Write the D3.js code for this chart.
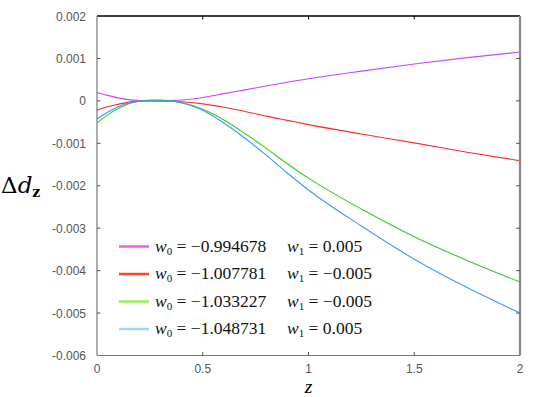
<!DOCTYPE html>
<html>
<head>
<meta charset="utf-8">
<script src="https://cdn.jsdelivr.net/npm/d3@7"></script>
<style>
  body { margin: 0; background: #fff; }
  svg { display: block; }
</style>
</head>
<body>
<svg width="545" height="397"></svg>
<script>
// z grid shared by every curve
const zValues = [0, 0.05, 0.1, 0.15, 0.2, 0.25, 0.3, 0.35, 0.4, 0.5, 0.6, 0.7, 0.8, 0.9, 1.0, 1.25, 1.5, 1.75, 2.0];

// Delta d_z per series
const magentaVals = [0.0002, 0.00013, 0.00007, 0.00003, 0.00001, 0.0, 0.0, 0.00001, 0.00002, 0.00008, 0.00017, 0.00026, 0.00035, 0.00044, 0.00052, 0.0007, 0.00087, 0.00102, 0.00115];
const redVals = [-0.00022, -0.00014, -0.00008, -0.00003, -0.00001, 0.0, 0.0, -0.00001, -0.00002, -0.00007, -0.00015, -0.00025, -0.00036, -0.00046, -0.00056, -0.00078, -0.00099, -0.00121, -0.00141];
const greenVals = [-0.00052, -0.00033, -0.00018, -0.00007, -0.00001, 0.00001, 0.00001, 0.0, -0.00004, -0.0002, -0.00045, -0.00077, -0.00112, -0.00148, -0.00182, -0.00255, -0.0032, -0.00376, -0.00427];
const blueVals = [-0.00043, -0.00027, -0.00014, -0.00005, -0.00001, 0.00002, 0.00002, 0.0, -0.00005, -0.00022, -0.00052, -0.00088, -0.00128, -0.0017, -0.0021, -0.00295, -0.00373, -0.0044, -0.005];

const w0Labels = ["\u22120.994678", "\u22121.007781", "\u22121.033227", "\u22121.048731"];
const w1Labels = ["0.005", "\u22120.005", "\u22120.005", "0.005"];

const xTicks = [0, 0.5, 1, 1.5, 2];
const yTicks = [0.002, 0.001, 0, -0.001, -0.002, -0.003, -0.004, -0.005, -0.006];

const lineColors = ["#cc44ff", "#ff2a2a", "#33cc22", "#3a98ff"];
const legendColors = ["#ff55ee", "#ff4422", "#99ee55", "#99d8ff"];

const series = [magentaVals, redVals, greenVals, blueVals].map((vals, i) => ({
  pts: zValues.map((z, j) => [z, vals[j]]),
  color: lineColors[i],
  legendColor: legendColors[i],
  w0: w0Labels[i],
  w1: w1Labels[i]
}));

const svg = d3.select("svg");
const pLeft = 97, pRight = 520, pTop = 16, pBottom = 355.5;

const x = d3.scaleLinear().domain([0, 2]).range([pLeft, pRight]);
const y = d3.scaleLinear().domain([-0.006, 0.002]).range([pBottom, pTop]);

const fmt = d => d === 0 ? "0" : String(+d.toFixed(3));

// curves
const line = d3.line().x(d => x(d[0])).y(d => y(d[1])).curve(d3.curveMonotoneX);
svg.append("g").selectAll("path")
  .data(series)
  .join("path")
  .attr("d", d => line(d.pts))
  .attr("fill", "none")
  .attr("stroke", d => d.color)
  .attr("stroke-width", 1.1);

// frame
svg.append("line").attr("x1", pLeft).attr("x2", pRight).attr("y1", pTop).attr("y2", pTop)
  .attr("stroke", "#000").attr("stroke-width", 1.5);
svg.append("line").attr("x1", pLeft).attr("x2", pRight).attr("y1", pBottom).attr("y2", pBottom)
  .attr("stroke", "#777").attr("stroke-width", 1.2);
svg.append("line").attr("x1", pLeft).attr("x2", pLeft).attr("y1", pTop).attr("y2", pBottom)
  .attr("stroke", "#777").attr("stroke-width", 1.2);
svg.append("line").attr("x1", pRight).attr("x2", pRight).attr("y1", pTop).attr("y2", pBottom)
  .attr("stroke", "#888").attr("stroke-width", 2.2);

// ticks
const tk = svg.append("g");
tk.selectAll(".yl").data(yTicks.slice(1, -1)).join("line")
  .attr("x1", pLeft).attr("x2", pLeft + 3.5).attr("y1", d => y(d)).attr("y2", d => y(d))
  .attr("stroke", "#555");
tk.selectAll(".yr").data(yTicks.slice(1, -1)).join("line")
  .attr("x1", pRight - 4).attr("x2", pRight).attr("y1", d => y(d)).attr("y2", d => y(d))
  .attr("stroke", "#555");
tk.selectAll(".xb").data(xTicks.slice(1, -1)).join("line")
  .attr("x1", d => x(d)).attr("x2", d => x(d)).attr("y1", pBottom).attr("y2", pBottom - 3.5)
  .attr("stroke", "#555");
tk.selectAll(".xt").data(xTicks.slice(1, -1)).join("line")
  .attr("x1", d => x(d)).attr("x2", d => x(d)).attr("y1", pTop).attr("y2", pTop + 3.5)
  .attr("stroke", "#000");

// tick labels
svg.append("g").selectAll("text").data(yTicks).join("text")
  .attr("x", 86).attr("y", d => y(d) + 4.5)
  .attr("text-anchor", "end")
  .attr("font-family", "Liberation Sans, Arial, sans-serif")
  .attr("font-size", 12).attr("fill", "#555")
  .text(fmt);
svg.append("g").selectAll("text").data(xTicks).join("text")
  .attr("x", d => x(d)).attr("y", 372.5)
  .attr("text-anchor", "middle")
  .attr("font-family", "Liberation Sans, Arial, sans-serif")
  .attr("font-size", 12).attr("fill", "#555")
  .text(d => String(d));

// axis titles
const yt = svg.append("text").attr("x", 1).attr("y", 193)
  .attr("font-family", "DejaVu Serif, serif").attr("font-size", 23).attr("fill", "#000");
yt.append("tspan").text("\u0394");
yt.append("tspan").attr("font-style", "italic").text("d");
yt.append("tspan").attr("font-size", 14).attr("font-weight", "bold").attr("dy", 4).text("z");

svg.append("text").attr("x", x(1)).attr("y", 392.6)
  .attr("text-anchor", "middle")
  .attr("font-family", "Liberation Serif, serif").attr("font-style", "italic")
  .attr("font-size", 19.5).text("z");

// legend
const legY = [246.5, 274, 301.5, 329];
const lg = svg.append("g").selectAll("g").data(series).join("g")
  .attr("transform", (d, i) => `translate(0,${legY[i]})`);
lg.append("line").attr("x1", 119).attr("x2", 149).attr("y1", 0).attr("y2", 0)
  .attr("stroke", d => d.legendColor).attr("stroke-width", 2.5);
const t0 = lg.append("text").attr("x", 155).attr("y", 5)
  .attr("font-family", "Liberation Serif, serif").attr("font-size", 17.5).attr("fill", "#111");
t0.append("tspan").attr("font-style", "italic").text("w");
t0.append("tspan").attr("font-size", 11).attr("dy", 3).text("0");
t0.append("tspan").attr("dy", -3).text(d => " = " + d.w0);
const t1 = lg.append("text").attr("x", 287).attr("y", 5)
  .attr("font-family", "Liberation Serif, serif").attr("font-size", 17.5).attr("fill", "#111");
t1.append("tspan").attr("font-style", "italic").text("w");
t1.append("tspan").attr("font-size", 11).attr("dy", 3).text("1");
t1.append("tspan").attr("dy", -3).text(d => " = " + d.w1);
</script>
</body>
</html>
